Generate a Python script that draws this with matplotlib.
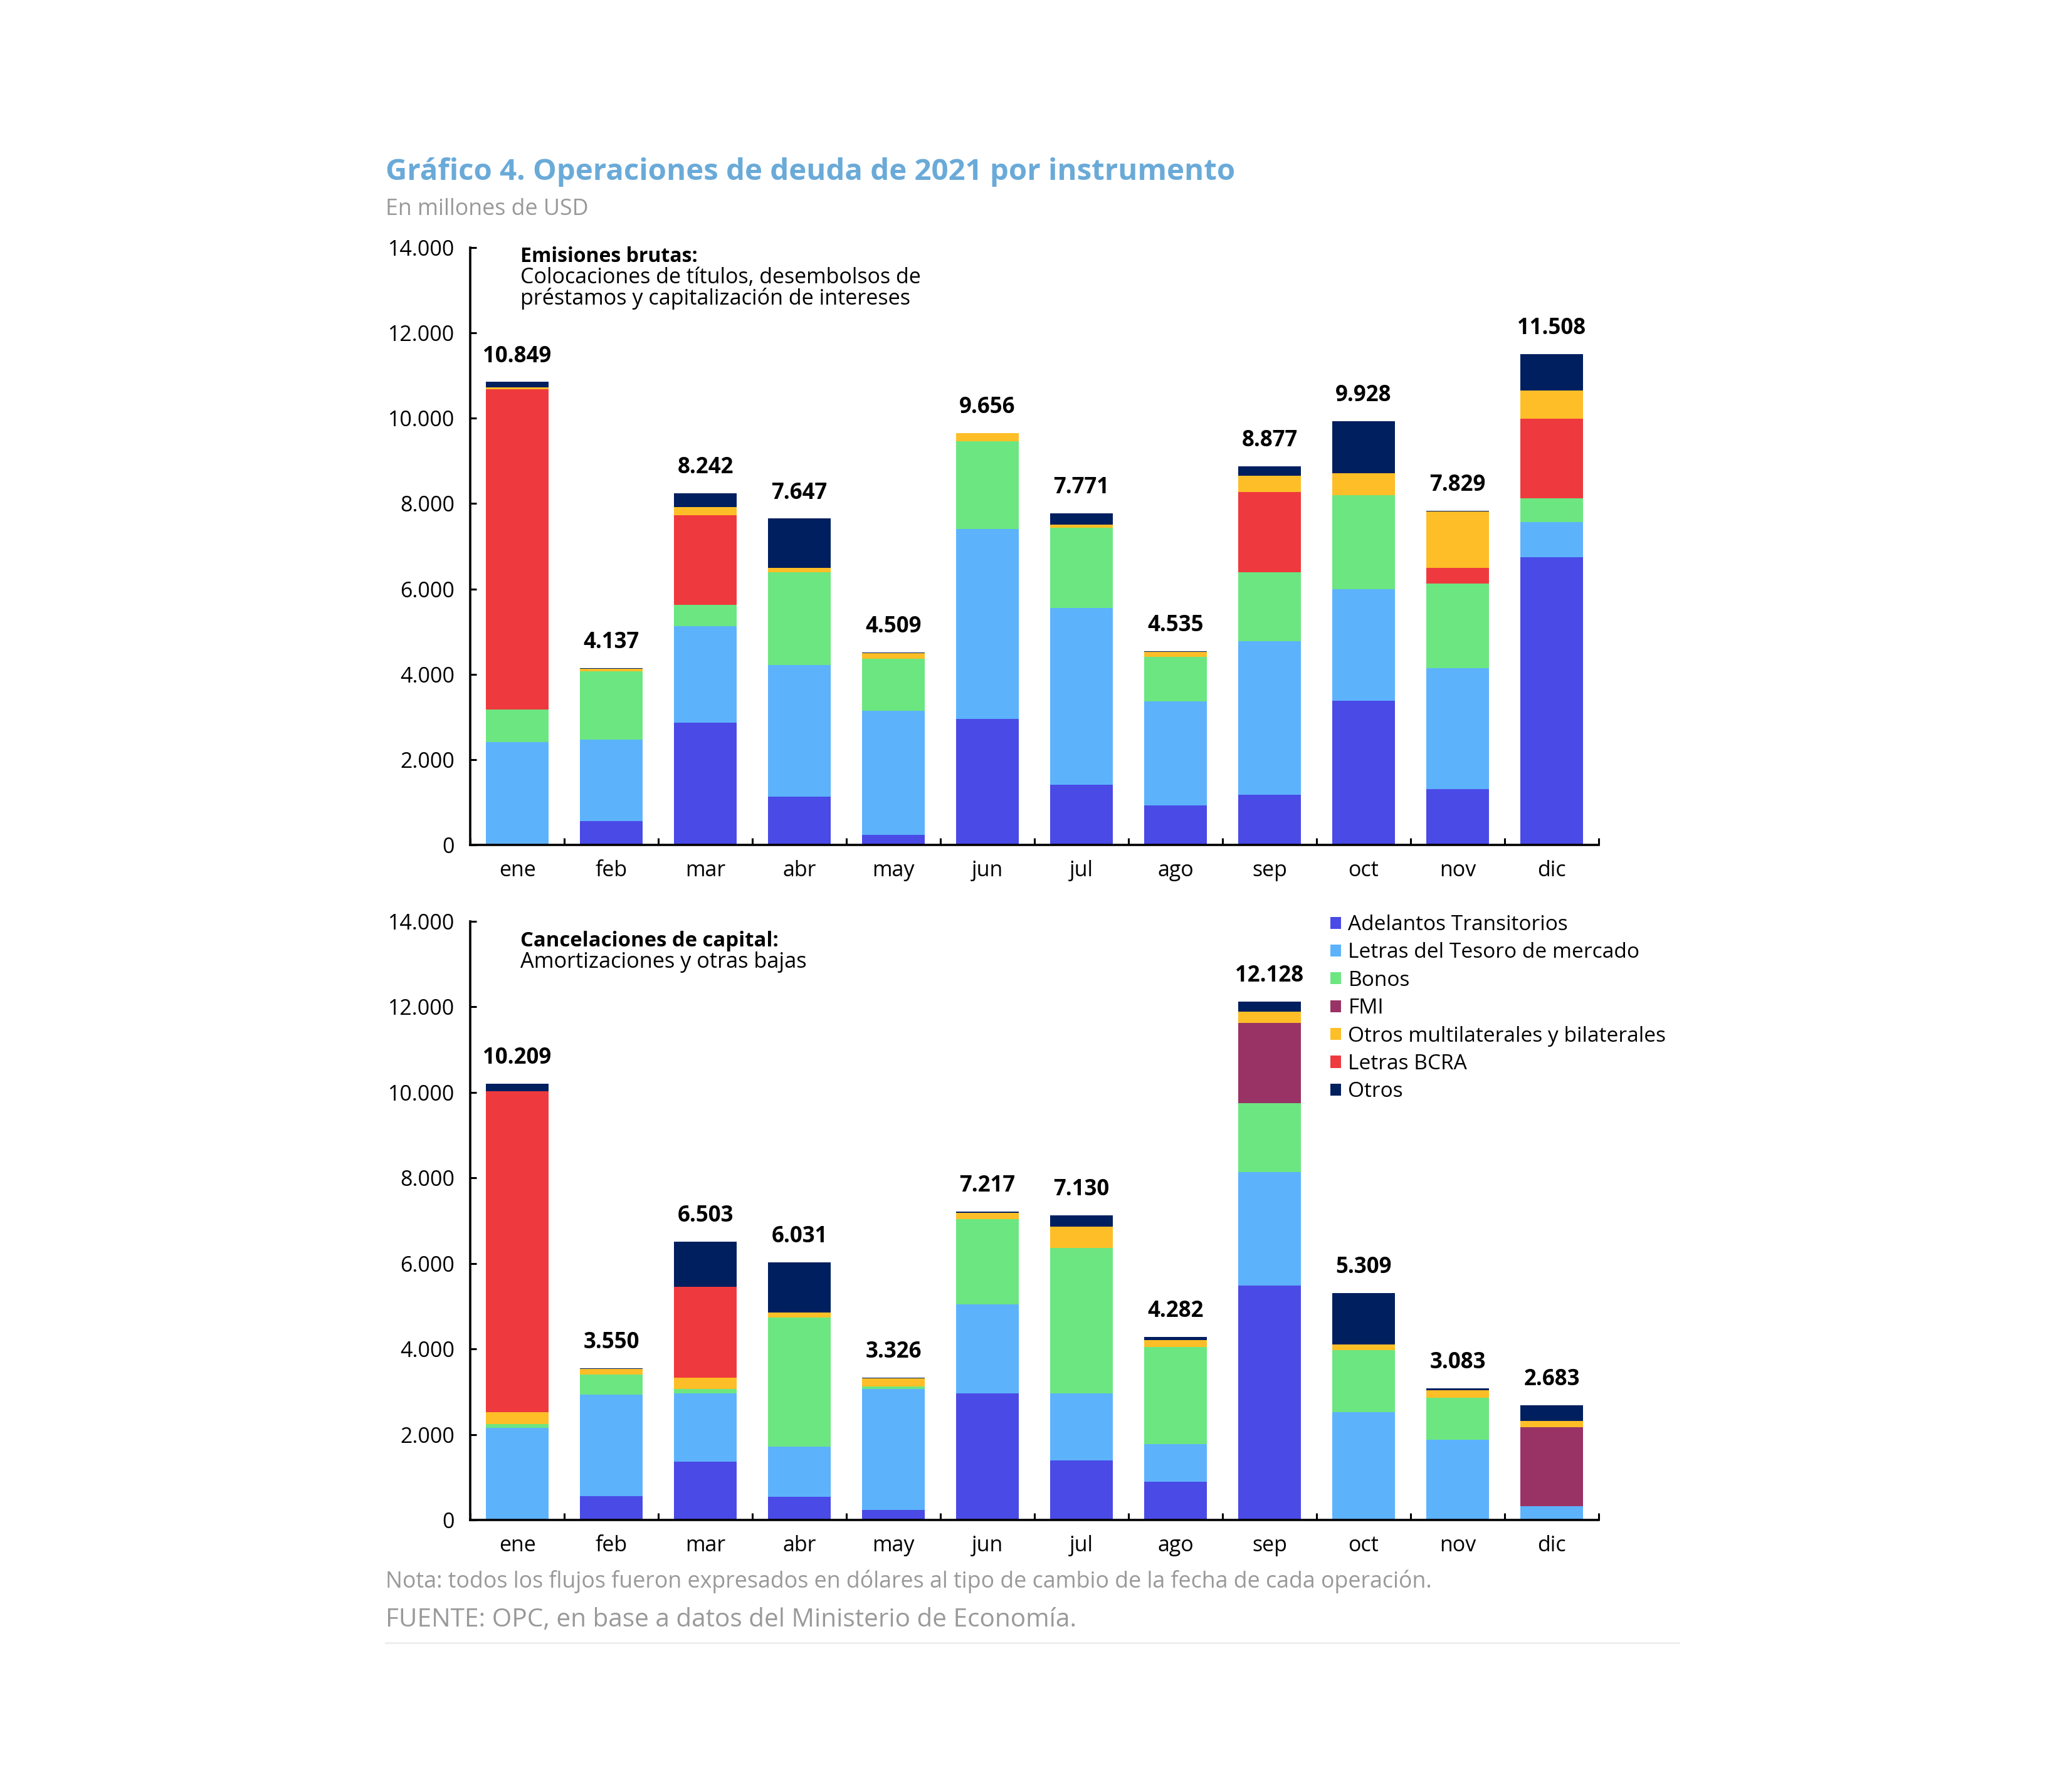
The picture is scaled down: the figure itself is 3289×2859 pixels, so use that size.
import matplotlib
matplotlib.use('Agg')
import matplotlib.pyplot as plt
from matplotlib.patches import Patch
from matplotlib.ticker import FuncFormatter, FixedLocator
import numpy as np

plt.rcParams['font.family'] = ['Open Sans', 'DejaVu Sans']

meses = ['ene', 'feb', 'mar', 'abr', 'may', 'jun', 'jul', 'ago', 'sep', 'oct', 'nov', 'dic']
series = ['Adelantos Transitorios', 'Letras del Tesoro de mercado', 'Bonos', 'FMI',
          'Otros multilaterales y bilaterales', 'Letras BCRA', 'Otros']

# Emisiones brutas (millones de USD)
em_adelantos = [0, 560, 2860, 1130, 240, 2960, 1410, 920, 1170, 3380, 1310, 6740]
em_letras = [2410, 1910, 2270, 3080, 2910, 4440, 4140, 2440, 3600, 2610, 2830, 830]
em_bonos = [770, 1600, 500, 2180, 1210, 2060, 1890, 1040, 1620, 2210, 1980, 560]
em_fmi = [0, 0, 0, 0, 0, 0, 0, 0, 0, 0, 0, 0]
em_bcra = [7500, 0, 2090, 0, 0, 0, 0, 0, 1880, 0, 380, 1860]
em_multi = [40, 60, 200, 100, 130, 190, 60, 120, 380, 510, 1320, 660]
em_otros = [129, 7, 322, 1157, 19, 6, 271, 15, 227, 1218, 9, 858]
em_total = [10849, 4137, 8242, 7647, 4509, 9656, 7771, 4535, 8877, 9928, 7829, 11508]

# Cancelaciones de capital (millones de USD)
ca_adelantos = [0, 560, 1370, 540, 240, 2960, 1400, 890, 5480, 0, 0, 0]
ca_letras = [2150, 2370, 1590, 1180, 2830, 2080, 1560, 890, 2660, 2520, 1870, 320]
ca_bonos = [90, 470, 100, 3010, 50, 1990, 3400, 2270, 1610, 1450, 990, 0]
ca_fmi = [0, 0, 0, 0, 0, 0, 0, 0, 1870, 0, 0, 1850]
ca_multi = [280, 140, 270, 120, 190, 150, 500, 160, 270, 130, 180, 150]
ca_bcra = [7500, 0, 2120, 0, 0, 0, 0, 0, 0, 0, 0, 0]
ca_otros = [189, 10, 1053, 1181, 16, 37, 270, 72, 238, 1209, 43, 363]
ca_total = [10209, 3550, 6503, 6031, 3326, 7217, 7130, 4282, 12128, 5309, 3083, 2683]

yticks = [0, 2000, 4000, 6000, 8000, 10000, 12000, 14000]

colors = {
    'Adelantos Transitorios': '#4A4AE6',
    'Letras del Tesoro de mercado': '#5DB2FC',
    'Bonos': '#6CE681',
    'FMI': '#993366',
    'Otros multilaterales y bilaterales': '#FDBE27',
    'Letras BCRA': '#EE3A3E',
    'Otros': '#001F5F',
}

W, H = 3289, 2859
fig = plt.figure(figsize=(W / 100, H / 100), dpi=100)
fig.patch.set_facecolor('white')


def fx(px):
    return px / W


def fy(py):
    return 1 - py / H


def thousands(v, pos=None):
    return f'{int(round(v)):,}'.replace(',', '.')


ax1 = fig.add_axes([fx(750), fy(1348), fx(2550) - fx(750), fy(395) - fy(1348)])
ax2 = fig.add_axes([fx(750), fy(2425), fx(2550) - fx(750), fy(1470) - fy(2425)])

top_order = [('Adelantos Transitorios', em_adelantos), ('Letras del Tesoro de mercado', em_letras),
             ('Bonos', em_bonos), ('FMI', em_fmi), ('Letras BCRA', em_bcra),
             ('Otros multilaterales y bilaterales', em_multi), ('Otros', em_otros)]
bot_order = [('Adelantos Transitorios', ca_adelantos), ('Letras del Tesoro de mercado', ca_letras),
             ('Bonos', ca_bonos), ('FMI', ca_fmi), ('Otros multilaterales y bilaterales', ca_multi),
             ('Letras BCRA', ca_bcra), ('Otros', ca_otros)]

x = np.arange(len(meses))
tick_fs = 24.5
for ax, order, totals in [(ax1, top_order, em_total), (ax2, bot_order, ca_total)]:
    bottom = np.zeros(len(meses))
    for name, vals in order:
        v = np.array(vals, dtype=float)
        ax.bar(x, v, width=0.667, bottom=bottom, color=colors[name], linewidth=0)
        bottom += v
    for i, t in enumerate(totals):
        ax.annotate(thousands(t), (x[i], bottom[i]), xytext=(0, 23), textcoords='offset points',
                    ha='center', va='baseline', fontsize=25, fontweight='bold', color='black')
    ax.set_xlim(-0.5, len(meses) - 0.5)
    ax.set_ylim(0, 14000)
    ax.yaxis.set_major_locator(FixedLocator(yticks))
    ax.yaxis.set_major_formatter(FuncFormatter(thousands))
    ax.set_xticks(x)
    ax.set_xticklabels(meses)
    ax.set_xticks(np.arange(-0.5, len(meses)), minor=True)
    for s in ['top', 'right']:
        ax.spines[s].set_visible(False)
    for s in ['left', 'bottom']:
        ax.spines[s].set_linewidth(2.6)
        ax.spines[s].set_color('black')
    ax.tick_params(axis='x', which='major', length=0, pad=17, labelsize=tick_fs, colors='black')
    ax.tick_params(axis='x', which='minor', direction='in', length=8, width=2.2, color='black')
    ax.tick_params(axis='y', which='major', direction='in', length=7, width=2.2, pad=18,
                   labelsize=tick_fs, colors='black')
    ax.set_facecolor('white')

fig.canvas.draw()
renderer = fig.canvas.get_renderer()


def fit(t, target):
    w = t.get_window_extent(renderer).width
    t.set_fontsize(t.get_fontsize() * target / w)
    return t


title = fig.text(fx(615), fy(287), 'Gráfico 4. Operaciones de deuda de 2021 por instrumento',
                 fontsize=30, fontweight='bold', color='#6AAAD8', ha='left', va='baseline')
fit(title, 1355)
sub = fig.text(fx(615), fy(343), 'En millones de USD', fontsize=20, color='#999999',
               ha='left', va='baseline')
fit(sub, 323)

a1 = fig.text(fx(830), fy(418), 'Emisiones brutas:', fontsize=20, fontweight='bold',
              color='black', ha='left', va='baseline')
fit(a1, 283)
a2 = fig.text(fx(830), fy(452), 'Colocaciones de títulos, desembolsos de', fontsize=20,
              color='black', ha='left', va='baseline')
fit(a2, 638)
a3 = fig.text(fx(830), fy(486), 'préstamos y capitalización de intereses', fontsize=20,
              color='black', ha='left', va='baseline')
fit(a3, 620)
b1 = fig.text(fx(830), fy(1510), 'Cancelaciones de capital:', fontsize=20, fontweight='bold',
              color='black', ha='left', va='baseline')
fit(b1, 412)
b2 = fig.text(fx(830), fy(1544), 'Amortizaciones y otras bajas', fontsize=20,
              color='black', ha='left', va='baseline')
fit(b2, 456)

n1 = fig.text(fx(615), fy(2533), 'Nota: todos los flujos fueron expresados en dólares al tipo de cambio de la fecha de cada operación.',
              fontsize=20, color='#999999', ha='left', va='baseline')
fit(n1, 1665)
n2 = fig.text(fx(615), fy(2595), 'FUENTE: OPC, en base a datos del Ministerio de Economía.',
              fontsize=22, color='#999999', ha='left', va='baseline')
fit(n2, 1100)

fig.add_artist(plt.Line2D([fx(615), fx(2678)], [fy(2621), fy(2621)], color='#EEEEEE', lw=2.2))

# legend font size fitted to width of longest label
tmp = fig.text(0, 0, 'Otros multilaterales y bilaterales', fontsize=20)
fit(tmp, 506)
leg_fs = tmp.get_fontsize()
tmp.remove()

handles = [Patch(facecolor=colors[s], edgecolor='none') for s in series]
ax2.legend(handles, series, loc='upper left', bbox_to_anchor=(fx(2122), fy(1459)),
           bbox_transform=fig.transFigure, frameon=False, fontsize=leg_fs,
           handlelength=0.5, handleheight=0.5, handletextpad=0.35, labelspacing=0.34,
           borderpad=0, borderaxespad=0)

fig.savefig('out.png', dpi=100, facecolor='white')
